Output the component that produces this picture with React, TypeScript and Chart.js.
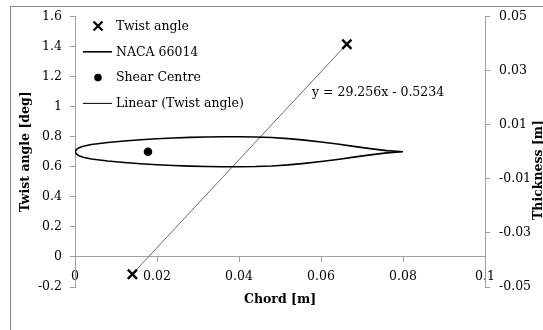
import React, { useEffect, useRef } from 'react';
import { Chart, registerables } from 'chart.js';

Chart.register(...registerables);

// ---- data ----
const twistChord = [0.014, 0.0663];
const twistAngle = [-0.115, 1.415];
const trendSlope = 29.256;
const trendIntercept = -0.5234;
const trendLabel = 'y = 29.256x - 0.5234';

const shearChord = [0.0178];
const shearThickness = [0];

const nacaChord = [0, 0.0004, 0.001, 0.002, 0.004, 0.006, 0.008, 0.012, 0.016, 0.02, 0.024, 0.028, 0.032, 0.036, 0.04, 0.044, 0.048, 0.052, 0.056, 0.06, 0.064, 0.068, 0.072, 0.076, 0.08];
const nacaUpper = [0, 0.0009, 0.0015, 0.002, 0.00265, 0.00305, 0.0034, 0.00395, 0.00441, 0.00479, 0.00508, 0.0053, 0.00545, 0.00554, 0.00557, 0.00548, 0.00525, 0.00485, 0.0043, 0.00362, 0.00284, 0.002, 0.00115, 0.00042, 0];
const nacaLower = [0, -0.0009, -0.0015, -0.002, -0.00265, -0.00305, -0.0034, -0.00395, -0.00441, -0.00479, -0.00508, -0.0053, -0.00545, -0.00554, -0.00557, -0.00548, -0.00525, -0.00485, -0.0043, -0.00362, -0.00284, -0.002, -0.00115, -0.00042, 0];

const xMin = 0, xMax = 0.1, xStep = 0.02;
const yMin = -0.2, yMax = 1.6, yStep = 0.2;
const y2Min = -0.05, y2Max = 0.05, y2Step = 0.02;

const seriesLabels = ['Twist angle', 'NACA 66014', 'Shear Centre', 'Linear (Twist angle)'];
const xTitle = 'Chord [m]';
const yTitle = 'Twist angle [deg]';
const y2Title = 'Thickness [m]';

const FONT = '"DejaVu Serif", serif';
const FS = 12.5;
const AXIS_GREY = '#a0a0a0';

const overlayPlugin = {
  id: 'overlay',
  afterDraw(chart: any) {
    const { ctx, chartArea } = chart;
    const L = chartArea.left;
    const T = chartArea.top;
    ctx.save();
    ctx.font = `${FS}px ${FONT}`;
    ctx.fillStyle = '#000';
    ctx.textBaseline = 'middle';
    ctx.textAlign = 'left';
    const kinds = ['cross', 'line', 'dot', 'thin'];
    seriesLabels.forEach((lab, i) => {
      const y = T + 9.5 + i * 25.8;
      const mx = L + 23;
      const k = kinds[i];
      ctx.strokeStyle = '#000';
      if (k === 'cross') {
        ctx.lineWidth = 2.2;
        ctx.beginPath();
        ctx.moveTo(mx - 4.5, y - 4.5);
        ctx.lineTo(mx + 4.5, y + 4.5);
        ctx.moveTo(mx + 4.5, y - 4.5);
        ctx.lineTo(mx - 4.5, y + 4.5);
        ctx.stroke();
      } else if (k === 'dot') {
        ctx.beginPath();
        ctx.arc(mx, y, 3.8, 0, Math.PI * 2);
        ctx.fill();
      } else {
        ctx.lineWidth = k === 'line' ? 1.6 : 1;
        ctx.beginPath();
        ctx.moveTo(L + 8, y);
        ctx.lineTo(L + 37, y);
        ctx.stroke();
      }
      ctx.fillText(lab, L + 41, y + 0.5);
    });
    // trendline equation
    ctx.fillText(trendLabel, L + 237, T + 76);
    // secondary axis title (reads bottom to top)
    ctx.font = `bold ${FS}px ${FONT}`;
    ctx.translate(chart.width - 1, 170);
    ctx.rotate(-Math.PI / 2);
    ctx.textAlign = 'center';
    ctx.textBaseline = 'alphabetic';
    ctx.fillText(y2Title, 0, 0);
    ctx.restore();
  },
};

const fmt = (d: number) => (v: any) => String(Number(Number(v).toFixed(d)));

export default function App() {
  const ref = useRef<HTMLCanvasElement | null>(null);
  useEffect(() => {
    if (!ref.current) return;
    const naca = [
      ...nacaChord.map((x, i) => ({ x, y: nacaUpper[i] })),
      ...nacaChord.slice().reverse().map((x, i) => ({ x, y: nacaLower[nacaLower.length - 1 - i] })),
    ];
    const tx0 = twistChord[0];
    const tx1 = twistChord[twistChord.length - 1];
    const tickFont = { family: FONT, size: FS };
    const titleFont = { family: FONT, size: FS, weight: 'bold' as const };
    const chart = new Chart(ref.current, {
      type: 'scatter',
      data: {
        datasets: [
          {
            label: seriesLabels[0],
            data: twistChord.map((x, i) => ({ x, y: twistAngle[i] })),
            xAxisID: 'x',
            yAxisID: 'y',
            pointStyle: 'crossRot',
            pointRadius: 6.5,
            pointBorderWidth: 2.4,
            borderColor: '#000',
            backgroundColor: '#000',
            showLine: false,
          },
          {
            label: seriesLabels[1],
            data: naca,
            xAxisID: 'x',
            yAxisID: 'y2',
            showLine: true,
            borderColor: '#000',
            borderWidth: 1.6,
            pointRadius: 0,
            tension: 0,
          },
          {
            label: seriesLabels[2],
            data: shearChord.map((x, i) => ({ x, y: shearThickness[i] })),
            xAxisID: 'x',
            yAxisID: 'y2',
            pointStyle: 'circle',
            pointRadius: 4.3,
            borderWidth: 0,
            backgroundColor: '#000',
            borderColor: '#000',
            showLine: false,
          },
          {
            label: seriesLabels[3],
            data: [
              { x: tx0, y: trendSlope * tx0 + trendIntercept },
              { x: tx1, y: trendSlope * tx1 + trendIntercept },
            ],
            xAxisID: 'x',
            yAxisID: 'y',
            showLine: true,
            borderColor: '#6a6a6a',
            borderWidth: 1,
            pointRadius: 0,
          },
        ],
      },
      options: {
        animation: false,
        responsive: true,
        maintainAspectRatio: false,
        layout: { padding: { top: 16, left: 0, right: 0, bottom: 43 } },
        plugins: { legend: { display: false }, tooltip: { enabled: false } },
        scales: {
          x: {
            type: 'linear',
            position: { y: 0 } as any,
            min: xMin,
            max: xMax,
            ticks: { stepSize: xStep, color: '#000', font: tickFont, padding: 7.5, callback: fmt(2), maxRotation: 0 },
            grid: { drawOnChartArea: false, color: AXIS_GREY, tickLength: 5 },
            border: { color: AXIS_GREY },
            title: { display: true, text: xTitle, color: '#000', font: titleFont, padding: { top: 0, bottom: -7.5 } },
            afterFit: (s: any) => { s.height = 43; },
          },
          y: {
            type: 'linear',
            position: 'left',
            min: yMin,
            max: yMax,
            ticks: { stepSize: yStep, color: '#000', font: tickFont, padding: 8, callback: fmt(1) },
            grid: { drawOnChartArea: false, color: AXIS_GREY, tickLength: 5 },
            border: { color: AXIS_GREY },
            title: { display: true, text: yTitle, color: '#000', font: titleFont, padding: { top: 18.5, bottom: 0 } },
            afterFit: (s: any) => { s.width = 75; },
          },
          y2: {
            type: 'linear',
            position: 'right',
            min: y2Min,
            max: y2Max,
            ticks: { stepSize: y2Step, color: '#000', font: tickFont, padding: 9, callback: fmt(2) },
            grid: { drawOnChartArea: false, color: AXIS_GREY, tickLength: 5 },
            border: { color: AXIS_GREY },
            afterFit: (s: any) => { s.width = 58; },
          },
        },
      },
      plugins: [overlayPlugin],
    });
    return () => chart.destroy();
  }, []);

  return (
    <div style={{ position: 'absolute', left: 0, top: 0, width: 543, height: 330, overflow: 'hidden', background: '#fff' }}>
      <div style={{ position: 'absolute', left: 10, top: 6, width: 620, height: 420, border: '1px solid #8a8a8a', boxSizing: 'border-box' }} />
      <div style={{ position: 'absolute', left: 0, top: 0, width: 543, height: 330 }}>
        <canvas ref={ref} />
      </div>
    </div>
  );
}
